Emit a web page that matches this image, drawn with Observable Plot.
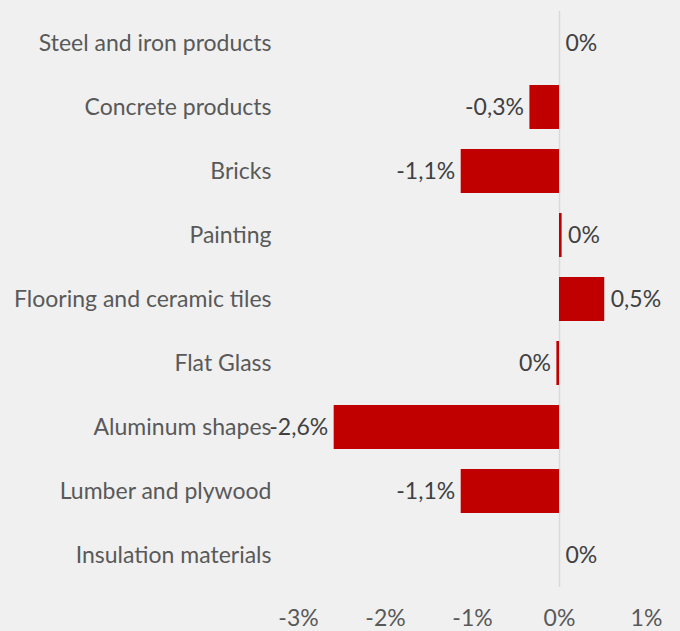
<!DOCTYPE html>
<html>
<head>
<meta charset="utf-8">
<script src="https://cdn.jsdelivr.net/npm/d3@7"></script>
<script src="https://cdn.jsdelivr.net/npm/@observablehq/plot@0.6"></script>
<style>
  html, body { margin: 0; padding: 0; background: #f0f0f0; }
  #chart svg { display: block; }
</style>
</head>
<body>
<div id="chart"></div>
<script>
const categories = [
  "Steel and iron products",
  "Concrete products",
  "Bricks",
  "Painting",
  "Flooring and ceramic tiles",
  "Flat Glass",
  "Aluminum shapes",
  "Lumber and plywood",
  "Insulation materials"
];
const values = [0, -0.34, -1.13, 0.03, 0.52, -0.03, -2.59, -1.13, 0];
const xTicks = [-3, -2, -1, 0, 1];

const data = categories.map((c, i) => ({category: c, value: values[i]}));
const fmt = v => {
  const r = Math.round(v * 10) / 10;
  return r === 0 ? "0%" : r.toFixed(1).replace(".", ",") + "%";
};

const chart = Plot.plot({
  width: 680,
  height: 631,
  marginLeft: 298,
  marginRight: 34,
  marginTop: 11,
  marginBottom: 44,
  style: {background: "#f0f0f0", fontFamily: "Lato, 'Open Sans', sans-serif", fontSize: "23px", color: "#595959"},
  x: {domain: [-3, 1], ticks: xTicks, tickFormat: d => d + "%", tickSize: 0, tickPadding: 22, label: null},
  y: {domain: categories, paddingInner: 0.31, paddingOuter: 0.155, tickSize: 0, tickPadding: 27, label: null},
  marks: [
    Plot.ruleX([0], {stroke: "#d9d9d9", strokeWidth: 1.5}),
    Plot.barX(data, {x: "value", y: "category", fill: "#c00000"}),
    Plot.text(data.filter(d => d.value < 0), {
      x: "value", y: "category", text: d => fmt(d.value),
      textAnchor: "end", dx: -6, fill: "#404040", fontSize: 23
    }),
    Plot.text(data.filter(d => d.value >= 0), {
      x: "value", y: "category", text: d => fmt(d.value),
      textAnchor: "start", dx: 6, fill: "#404040", fontSize: 23
    })
  ]
});
document.getElementById("chart").appendChild(chart);
</script>
</body>
</html>
